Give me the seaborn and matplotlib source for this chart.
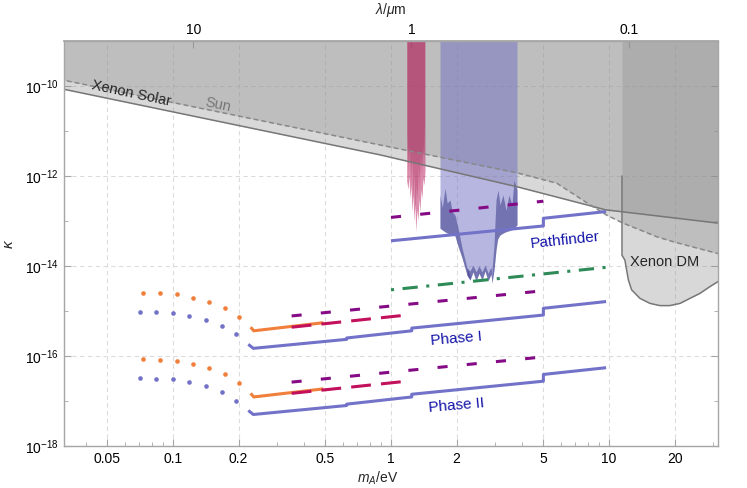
import numpy as np
import matplotlib
matplotlib.use("Agg")
import matplotlib.pyplot as plt
import matplotlib.ticker as mticker
import seaborn as sns

# ---- data (mass m_A in eV, log10 kappa) ----
# existing limits
m_solar = [0.03, 0.89, 3.79, 8.18, 9.6, 32.0]
k_solar = [-10.05, -11.53, -12.24, -12.66, -12.75, -13.05]

m_sun = [0.03, 0.89, 3.79, 5.76, 8.18, 9.76, 11.63, 13.9, 16.55, 19.7, 23.5, 32.0]
k_sun = [-9.85, -11.31, -11.93, -12.16, -12.64, -12.87, -13.05, -13.2, -13.35, -13.46, -13.56, -13.73]

m_dm = [11.47, 11.83, 12.27, 12.7, 13.87, 15.4, 17.1, 19.0, 21.2, 23.5, 26.1, 29.0, 32.0]
k_dm = [-13.76, -13.87, -14.31, -14.53, -14.72, -14.83, -14.88, -14.88, -14.83, -14.72, -14.61, -14.46, -14.33]

# pink (spiky) exclusion
m_pink = [1.180, 1.197, 1.209, 1.222, 1.235, 1.248, 1.261, 1.275, 1.288, 1.298,
          1.316, 1.330, 1.344, 1.358, 1.373, 1.387, 1.402, 1.417, 1.432]
k_pink = [-12.1, -12.3, -12.0, -12.5, -12.2, -12.8, -12.4, -13.0, -12.6, -13.24,
          -12.75, -13.0, -12.5, -12.8, -12.3, -12.5, -12.05, -12.2, -11.9]
m_pink2 = [1.185, 1.20, 1.215, 1.23, 1.245, 1.26, 1.275, 1.29, 1.305, 1.32,
           1.335, 1.35, 1.365, 1.38, 1.395, 1.41, 1.425]
k_pink2 = [-11.0, -11.9, -11.3, -12.2, -11.6, -12.5, -11.9, -12.8, -12.2, -12.5,
           -11.8, -12.3, -11.5, -12.0, -11.3, -11.6, -10.8]

# blue funnel exclusion
m_blue = [1.678, 1.769, 1.865, 1.966, 2.030, 2.118, 2.232, 2.304, 2.378, 2.455, 2.534, 2.616,
          2.700, 2.786, 2.875, 2.906, 2.968, 3.016, 3.064, 3.162, 3.333, 3.515, 3.784]
k_blue = [-13.16, -13.24, -13.29, -13.33, -13.56, -13.82, -14.20, -14.31, -14.13, -14.33, -14.16, -14.31,
          -14.11, -14.33, -14.18, -14.38, -14.09, -13.76, -13.42, -13.31, -13.24, -13.20, -13.09]
m_dark_l = [1.678, 1.72, 1.769, 1.81, 1.865, 1.91, 1.966, 2.030, 2.118, 2.232, 2.304]
k_dark_l_lo = [-13.16, -13.20, -13.24, -13.27, -13.29, -13.31, -13.33, -13.56, -13.82, -14.20, -14.31]
k_dark_l_hi = [-12.42, -12.7, -12.27, -12.6, -12.53, -12.8, -12.87, -13.16, -13.6, -14.04, -14.22]
m_dark_r = [2.906, 2.968, 3.032, 3.097, 3.162, 3.264, 3.369, 3.477, 3.589, 3.666, 3.784]
k_dark_r_lo = [-14.38, -14.09, -13.64, -13.38, -13.31, -13.27, -13.24, -13.22, -13.19, -13.17, -13.09]
k_dark_r_hi = [-14.09, -13.53, -12.53, -12.31, -12.64, -12.42, -12.76, -12.42, -12.64, -12.09, -12.31]
m_dark_b = [2.232, 2.304, 2.378, 2.455, 2.534, 2.616, 2.700, 2.786, 2.875, 2.906]
k_dark_b_lo = [-14.20, -14.31, -14.13, -14.33, -14.16, -14.31, -14.11, -14.33, -14.18, -14.38]
k_dark_b_hi = [-14.04, -14.11, -13.98, -14.13, -14.0, -14.13, -13.98, -14.16, -14.02, -14.2]

# projections
m_pf_blue = [1.0, 5.0, 5.0, 9.7]
k_pf_blue = [-13.44, -13.11, -12.94, -12.79]
m_pf_purple = [1.0, 5.0]
k_pf_purple = [-12.92, -12.56]
m_green = [1.0, 9.7]
k_green = [-14.53, -14.03]

m_ph_blue = [0.2215, 0.2335, 0.626, 0.626, 1.245, 1.245, 5.0, 5.0, 9.7]
k_ph1_blue = [-15.74, -15.83, -15.63, -15.60, -15.44, -15.38, -15.09, -14.94, -14.79]
k_ph2_blue = [-17.21, -17.30, -17.10, -17.07, -16.91, -16.85, -16.56, -16.41, -16.26]
m_ph_orange = [0.227, 0.2347, 0.49]
k_ph1_orange = [-15.36, -15.44, -15.26]
k_ph2_orange = [-16.83, -16.91, -16.73]
m_ph_crimson = [0.35, 1.18]
k_ph1_crimson = [-15.36, -15.09]
k_ph2_crimson = [-16.83, -16.56]
m_ph_purple = [0.35, 5.0]
k_ph1_purple = [-15.11, -14.55]
k_ph2_purple = [-16.58, -16.02]

m_orange_dots = [0.0731, 0.0872, 0.1040, 0.1239, 0.1467, 0.1732, 0.2014]
k_orange_dots1 = [-14.59, -14.61, -14.63, -14.70, -14.79, -14.94, -15.14]
k_orange_dots2 = [-16.06, -16.08, -16.10, -16.17, -16.26, -16.41, -16.61]
m_blue_dots = [0.0706, 0.0835, 0.0997, 0.1188, 0.1417, 0.1673, 0.1945]
k_blue_dots1 = [-15.02, -15.03, -15.05, -15.11, -15.20, -15.33, -15.52]
k_blue_dots2 = [-16.49, -16.50, -16.52, -16.58, -16.67, -16.80, -16.99]

x_ticks = [0.05, 0.1, 0.2, 0.5, 1, 2, 5, 10, 20]
x_ticklabels = ["0.05", "0.1", "0.2", "0.5", "1", "2", "5", "10", "20"]
lam_ticks = [10, 1, 0.1]
lam_ticklabels = ["10", "1", "0.1"]

# ---- style ----
sns.set_theme(style="white")
plt.rcParams["font.family"] = ["Liberation Sans", "DejaVu Sans"]
plt.rcParams["mathtext.fontset"] = "custom"
plt.rcParams["mathtext.rm"] = "Liberation Sans"
plt.rcParams["mathtext.it"] = "Liberation Sans:italic"

BLUE = "#7272c9"
ORANGE = "#f07f3c"
CRIMSON = "#c2105c"
PURPLE = "#850a85"
GREEN = "#2e8b57"
TXT = "#1414a8"

fig = plt.figure(figsize=(7.47, 4.88), dpi=100)
ax = fig.add_axes([64 / 747, 42 / 488, 654 / 747, 405 / 488])
ax.set_xscale("log")
ax.set_yscale("log")


def p(v):
    return 10 ** np.asarray(v, float)


# gray regions
gray = dict(color="#8c8c8c", alpha=0.333, lw=0)
ax.fill_between(m_solar, p(k_solar), 1e-8, **gray)
ax.fill_between(m_sun, p(k_sun), 1e-8, **gray)
ax.fill_between(m_dm, p(k_dm), 1e-8, **gray)
sns.lineplot(x=m_solar, y=p(k_solar), ax=ax, color="#777777", lw=1.1, sort=False, estimator=None)
sns.lineplot(x=m_sun, y=p(k_sun), ax=ax, color="#888888", lw=1.1, sort=False, estimator=None,
             linestyle=(0, (3.2, 2.0)))
sns.lineplot(x=[m_dm[0]] + m_dm, y=p([-12.0] + k_dm), ax=ax, color="#777777", lw=1.1,
             sort=False, estimator=None)

# pink and blue regions
ax.fill_between(m_pink, p(k_pink), 1e-8, color="#c0306a", alpha=0.55, lw=0)
ax.fill_between(m_pink2, p(k_pink2), 1e-8, color="#a01850", alpha=0.3, lw=0)
ax.fill_between(m_blue, p(k_blue), 1e-8, color="#6f6fc4", alpha=0.5, lw=0)
dark = dict(color="#3d3d8a", alpha=0.55, lw=0)
ax.fill_between(m_dark_l, p(k_dark_l_lo), p(k_dark_l_hi), **dark)
ax.fill_between(m_dark_r, p(k_dark_r_lo), p(k_dark_r_hi), **dark)
ax.fill_between(m_dark_b, p(k_dark_b_lo), p(k_dark_b_hi), **dark)

# projected sensitivities
lw = 2.2
line = dict(ax=ax, sort=False, estimator=None, lw=lw, solid_capstyle="butt")
sns.lineplot(x=m_pf_blue, y=p(k_pf_blue), color=BLUE, **line)
sns.lineplot(x=m_pf_purple, y=p(k_pf_purple), color=PURPLE, linestyle=(0, (3.3, 6.3)), **line)
sns.lineplot(x=m_green, y=p(k_green), color=GREEN, linestyle=(0, (1.0, 2.8, 5.0, 2.8)), **line)

for kb, ko, kc, kp in [(k_ph1_blue, k_ph1_orange, k_ph1_crimson, k_ph1_purple),
                       (k_ph2_blue, k_ph2_orange, k_ph2_crimson, k_ph2_purple)]:
    sns.lineplot(x=m_ph_blue, y=p(kb), color=BLUE, **line)
    sns.lineplot(x=m_ph_orange, y=p(ko), color=ORANGE, **line)
    sns.lineplot(x=m_ph_crimson, y=p(kc), color=CRIMSON, linestyle=(0, (6.5, 3.3)), **line)
    sns.lineplot(x=m_ph_purple, y=p(kp), color=PURPLE, linestyle=(0, (3.3, 6.3)), **line)

for ko, kb in [(k_orange_dots1, k_blue_dots1), (k_orange_dots2, k_blue_dots2)]:
    sns.scatterplot(x=m_orange_dots, y=p(ko), ax=ax, color=ORANGE, s=11, marker="o", linewidth=0)
    sns.scatterplot(x=m_blue_dots, y=p(kb), ax=ax, color=BLUE, s=11, marker="o", linewidth=0)

# labels in the plot
ax.text(0.0642, p(-10.16), "Xenon Solar", rotation=-12, fontsize=10.5, ha="center", va="center")
ax.text(0.161, p(-10.42), "Sun", rotation=-12, fontsize=10.5, color="#777777", ha="center", va="center")
ax.text(6.28, p(-13.42), "Pathfinder", rotation=6, fontsize=11, color=TXT, ha="center", va="center")
ax.text(1.99, p(-15.62), "Phase I", rotation=5, fontsize=11, color=TXT, ha="center", va="center")
ax.text(2.0, p(-17.11), "Phase II", rotation=5, fontsize=11, color=TXT, ha="center", va="center")
ax.text(18.07, p(-13.9), "Xenon DM", fontsize=10.5, ha="center", va="center")

# axes
ax.set_xlim(10 ** -1.5, 10 ** 1.5)
ax.set_ylim(1e-18, 1e-9)
ax.xaxis.set_major_locator(mticker.FixedLocator(x_ticks))
ax.xaxis.set_major_formatter(mticker.FixedFormatter(x_ticklabels))
ax.xaxis.set_minor_locator(mticker.LogLocator(base=10, subs=np.arange(1, 10), numticks=20))
ax.xaxis.set_minor_formatter(mticker.NullFormatter())
ax.yaxis.set_major_locator(mticker.FixedLocator([1e-18, 1e-16, 1e-14, 1e-12, 1e-10]))
ax.yaxis.set_major_formatter(mticker.LogFormatterSciNotation())
ax.yaxis.set_minor_locator(mticker.FixedLocator([1e-17, 1e-15, 1e-13, 1e-11]))
ax.yaxis.set_minor_formatter(mticker.NullFormatter())

ax.set_axisbelow(True)
ax.grid(True, which="major", color="#dcdcdc", lw=0.8, ls=(0, (4, 3)))
for s in ax.spines.values():
    s.set_color("#a6a6a6")
    s.set_linewidth(1.0)
ax.tick_params(which="both", direction="in", colors="#a6a6a6", labelcolor="black",
               labelsize=10, right=True, top=False, left=True, bottom=True)
ax.tick_params(which="major", length=5, width=0.8, pad=4)
ax.tick_params(which="minor", length=3, width=0.6)

ax.set_xlabel(r"$m_A$/eV", fontsize=10)
ax.xaxis.set_label_coords(0.479, -0.058)
ax.set_ylabel(r"$\kappa$", fontsize=11, labelpad=6)


def m_to_lam(m):
    m = np.asarray(m, float)
    with np.errstate(divide="ignore"):
        return 1.2398 / m


secax = ax.secondary_xaxis("top", functions=(m_to_lam, m_to_lam))
secax.set_xticks(lam_ticks, labels=lam_ticklabels)
secax.xaxis.set_minor_locator(mticker.NullLocator())
secax.tick_params(direction="in", colors="#a6a6a6", labelcolor="black", labelsize=10,
                  length=5, width=0.8, pad=3)
secax.spines["top"].set_color("#a6a6a6")
secax.set_xlabel(r"$\lambda/\mu$m", fontsize=10, labelpad=6)

fig.savefig("out.png", dpi=100)
